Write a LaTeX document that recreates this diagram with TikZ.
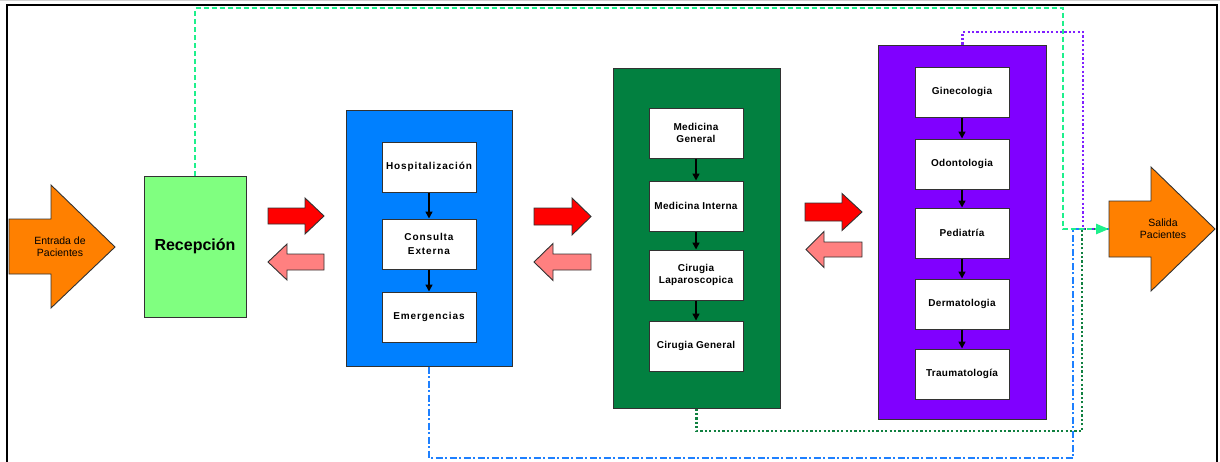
\documentclass[tikz,border=0pt]{standalone}
\usepackage{fontspec}
\setmainfont{Liberation Sans}
\usetikzlibrary{arrows.meta}

\definecolor{arroworange}{RGB}{255,128,0}
\definecolor{recgreen}{RGB}{128,255,128}
\definecolor{bluepanel}{RGB}{0,128,255}
\definecolor{greenpanel}{RGB}{2,128,64}
\definecolor{purplepanel}{RGB}{128,0,255}
\definecolor{arrowred}{RGB}{255,0,0}
\definecolor{arrowpink}{RGB}{255,128,128}
\definecolor{flowmint}{RGB}{30,240,140}
\definecolor{flowblue}{RGB}{30,128,255}
\definecolor{flowgreen}{RGB}{16,128,64}
\definecolor{flowpurple}{RGB}{128,32,255}
\definecolor{edgegray}{RGB}{50,50,50}

\begin{document}
\begin{tikzpicture}[x=1pt,y=-1pt,
  panel/.style={draw=edgegray,line width=1pt,inner sep=0pt},
  unitbox/.style={draw=edgegray,line width=1pt,fill=white,minimum width=94pt,minimum height=50pt,
    inner sep=0pt,align=center,font=\fontsize{10}{12}\selectfont\bfseries\addfontfeatures{LetterSpace=3}},
  unitboxwide/.style={unitbox,font=\fontsize{10}{13.5}\selectfont\bfseries\addfontfeatures{LetterSpace=9}},
  steparrow/.style={line width=1.5pt,-{Triangle[length=7pt,width=7pt]}},
  blockarrow/.style={draw=edgegray,line width=0.9pt,line join=miter},
  arrowtext/.style={align=center,font=\fontsize{10.5}{12}\selectfont,inner sep=0pt},
  flowline/.style={line width=2.6pt},
  dashedflow/.style={flowline,flowmint,dash pattern=on 5pt off 3pt},
  dashdotflow/.style={flowline,flowblue,dash pattern=on 7pt off 2.5pt on 2pt off 2.5pt},
  dottedflow/.style={flowline,dash pattern=on 2.2pt off 2.2pt}
]
\useasboundingbox (0,0) rectangle (1220,461);

% outer frame
\draw[gray!35,line width=1pt] (0,0.5) -- (1220,0.5);
\begin{scope}
  \clip (0,0) rectangle (1220,461);
  \draw[line width=2pt] (7,5) rectangle (1217,480);
\end{scope}

% entry and exit arrows
\filldraw[blockarrow,fill=arroworange] (9,219) -- (51,219) -- (51,185) -- (115,247) -- (51,308) -- (51,274) -- (9,274) -- cycle;
\node[arrowtext] (entrada) at (60,247) {Entrada de\\Pacientes};
\filldraw[blockarrow,fill=arroworange] (1109,201) -- (1151,201) -- (1151,167) -- (1215,229) -- (1151,291) -- (1151,257) -- (1109,257) -- cycle;
\node[arrowtext] (salida) at (1163,229) {Salida\\Pacientes};
\coordinate (salidaIn) at (1109,229);

% reception
\node[panel,fill=recgreen,minimum width=102pt,minimum height=141pt,
  font=\fontsize{16}{18}\selectfont\bfseries] (recep) at (195,246.5) {Recepción};

% service panels
\node[panel,fill=bluepanel,minimum width=166pt,minimum height=256pt] (blue) at (429,238) {};
\node[panel,fill=greenpanel,minimum width=167pt,minimum height=340pt] (green) at (696.5,238) {};
\node[panel,fill=purplepanel,minimum width=168pt,minimum height=374pt] (purple) at (962.5,232) {};

% blue panel units
\node[unitboxwide] (hosp) at (429,167) {Hospitalización};
\node[unitboxwide] (cons) at (429,244) {Consulta\\Externa};
\node[unitboxwide] (emer) at (429,317) {Emergencias};
\draw[steparrow] (hosp.south) -- (cons.north);
\draw[steparrow] (cons.south) -- (emer.north);

% green panel units
\node[unitbox] (medgen) at (696,133) {Medicina\\General};
\node[unitbox] (medint) at (696,206) {Medicina Interna};
\node[unitbox] (cirlap) at (696,275) {Cirugia\\Laparoscopica};
\node[unitbox] (cirgen) at (696,346) {Cirugia General};
\draw[steparrow] (medgen.south) -- (medint.north);
\draw[steparrow] (medint.south) -- (cirlap.north);
\draw[steparrow] (cirlap.south) -- (cirgen.north);

% purple panel units
\node[unitbox] (gine) at (962,92) {Ginecologia};
\node[unitbox] (odon) at (962,164) {Odontologia};
\node[unitbox] (pedi) at (962,233) {Pediatría};
\node[unitbox] (derm) at (962,304) {Dermatologia};
\node[unitbox] (trau) at (962,374) {Traumatología};
\draw[steparrow] (gine.south) -- (odon.north);
\draw[steparrow] (odon.south) -- (pedi.north);
\draw[steparrow] (pedi.south) -- (derm.north);
\draw[steparrow] (derm.south) -- (trau.north);

% forward / backward arrows between stages
\filldraw[blockarrow,fill=arrowred] (268,208) -- (305,208) -- (305,198) -- (324,216) -- (305,234) -- (305,224) -- (268,224) -- cycle;
\filldraw[blockarrow,fill=arrowpink] (324,254) -- (287,254) -- (287,244) -- (268,262) -- (287,280) -- (287,270) -- (324,270) -- cycle;
\filldraw[blockarrow,fill=arrowred] (534,208) -- (572,208) -- (572,198) -- (591,216.5) -- (572,235) -- (572,225) -- (534,225) -- cycle;
\filldraw[blockarrow,fill=arrowpink] (591,254) -- (553,254) -- (553,243.5) -- (534,262) -- (553,280.5) -- (553,270) -- (591,270) -- cycle;
\filldraw[blockarrow,fill=arrowred] (805,203) -- (842,203) -- (842,193.5) -- (862,212) -- (842,230.5) -- (842,221) -- (805,221) -- cycle;
\filldraw[blockarrow,fill=arrowpink] (862,242) -- (824,242) -- (824,231.5) -- (806,249.5) -- (824,267.5) -- (824,257) -- (862,257) -- cycle;

% exit routes
\draw[dashdotflow] (blue.south) |- (1073,458) |- (salidaIn);
\draw[dottedflow,flowgreen] (green.south) |- (1082,431) |- (salidaIn);
\draw[dottedflow,flowpurple] (purple.north) |- (1083,32) |- (salidaIn);
\draw[dashedflow,-{Triangle[length=13pt,width=10pt,sep=0pt]}] (recep.north) |- (1063,8) |- (salidaIn);
\end{tikzpicture}
\end{document}
